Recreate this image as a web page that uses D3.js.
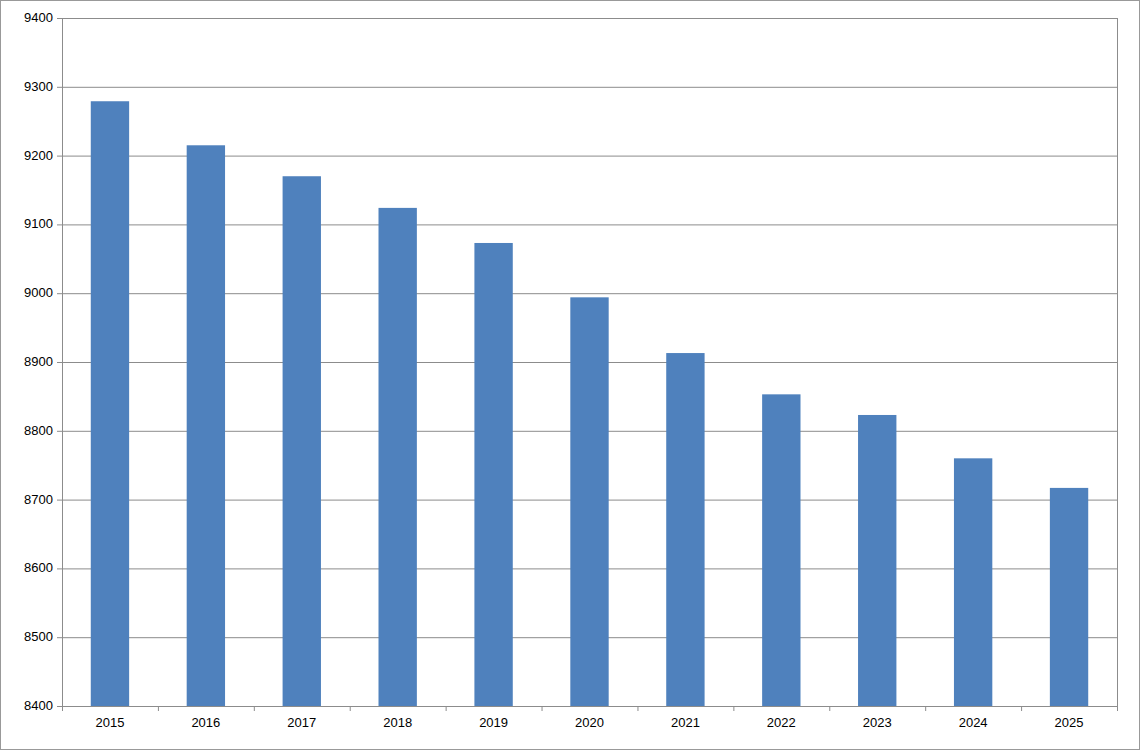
<!DOCTYPE html>
<html><head><meta charset="utf-8">
<script src="https://cdn.jsdelivr.net/npm/d3@7"></script>
<style>body{margin:0;background:#fff}svg{display:block}</style>
</head><body>
<script>
const categories = ["2015","2016","2017","2018","2019","2020","2021","2022","2023","2024","2025"];
const values = [9279,9215,9170,9124,9073,8994,8913,8853,8823,8760,8717];
const yTicks = [8400,8500,8600,8700,8800,8900,9000,9100,9200,9300,9400];

const W=1140,H=750, L=62, R=1117, T=18, B=706;
const svg=d3.select("body").append("svg").attr("width",W).attr("height",H);
svg.append("rect").attr("x",0.5).attr("y",0.5).attr("width",W-1).attr("height",H-1).attr("fill","#fff").attr("stroke","#999");
const x=d3.scaleBand().domain(categories).range([L,R]).paddingInner(0.6).paddingOuter(0.3);
const y=d3.scaleLinear().domain([8400,9400]).range([B,T]);
svg.append("g").selectAll("line").data(yTicks).join("line")
 .attr("x1",L-5).attr("x2",R).attr("y1",d=>y(d)+0.5).attr("y2",d=>y(d)+0.5).attr("stroke","#8c8c8c");
svg.append("line").attr("x1",L+0.5).attr("x2",L+0.5).attr("y1",T).attr("y2",B).attr("stroke","#8c8c8c");
svg.append("line").attr("x1",R+0.5).attr("x2",R+0.5).attr("y1",T).attr("y2",B).attr("stroke","#8c8c8c");
svg.append("g").selectAll("text").data(yTicks).join("text")
 .attr("x",L-9).attr("y",d=>y(d)+4).attr("text-anchor","end")
 .attr("font-family","Liberation Sans, Arial").attr("font-size",13).attr("fill","#000").text(d=>d);
const step=x.step();
svg.append("g").selectAll("line").data(d3.range(categories.length+1)).join("line")
 .attr("x1",i=>L+i*(R-L)/categories.length+0.5).attr("x2",i=>L+i*(R-L)/categories.length+0.5)
 .attr("y1",B).attr("y2",B+5).attr("stroke","#8c8c8c");
svg.append("g").selectAll("rect").data(categories).join("rect")
 .attr("x",(d)=>x(d)).attr("width",x.bandwidth())
 .attr("y",(d,i)=>y(values[i])).attr("height",(d,i)=>B-y(values[i]))
 .attr("fill","#4f81bd");
svg.append("g").selectAll("text").data(categories).join("text")
 .attr("x",d=>x(d)+x.bandwidth()/2).attr("y",B+21).attr("text-anchor","middle")
 .attr("font-family","Liberation Sans, Arial").attr("font-size",13).attr("fill","#000").text(d=>d);
</script>
</body></html>
